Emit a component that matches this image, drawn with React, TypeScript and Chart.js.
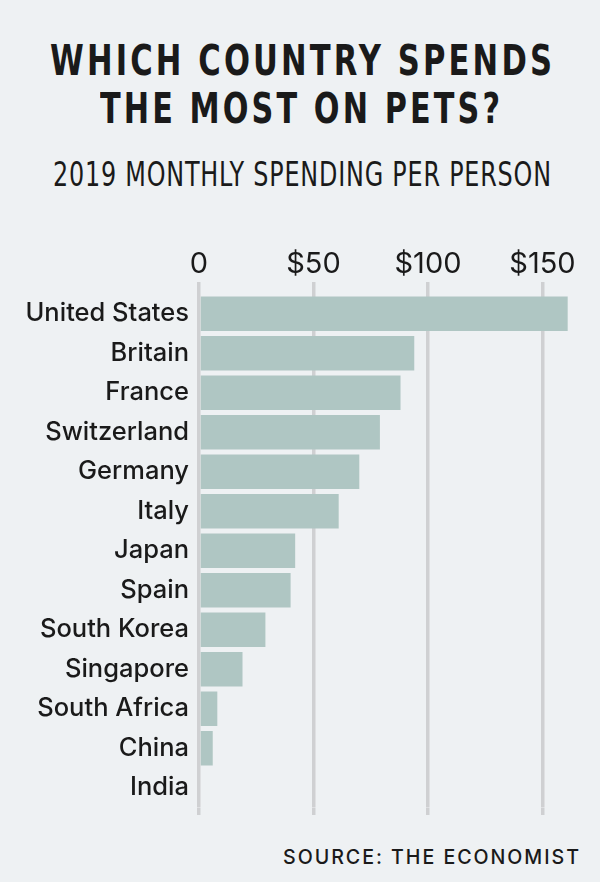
import React, { useEffect, useLayoutEffect, useRef } from 'react';
import { Chart, registerables } from 'chart.js';

Chart.register(...registerables);

const countries = [
  'United States', 'Britain', 'France', 'Switzerland', 'Germany', 'Italy',
  'Japan', 'Spain', 'South Korea', 'Singapore', 'South Africa', 'China', 'India',
];
const spending = [161, 94, 88, 79, 70, 61, 42, 40, 29, 19, 8, 6, 0];
const tickValues = [0, 50, 100, 150];
const titleLines = ['WHICH COUNTRY SPENDS', 'THE MOST ON PETS?'];
const subtitle = '2019 MONTHLY SPENDING PER PERSON';
const source = 'SOURCE: THE ECONOMIST';

const BG = '#eef1f3';
const BAR = '#afc6c3';
const GRID = '#cfd0d2';
const INK = '#1a1a1a';

type FitProps = {
  text: string;
  left: number;
  top: number;
  width: number;
  ls: number;
  font: React.CSSProperties;
};

function FitText({ text, left, top, width, ls, font }: FitProps) {
  const ref = useRef<HTMLSpanElement>(null);
  useLayoutEffect(() => {
    const el = ref.current;
    if (!el) return;
    el.style.transform = 'none';
    const w = el.getBoundingClientRect().width - ls;
    el.style.transform = `scaleX(${width / w})`;
  }, [text, width, ls]);
  return (
    <div style={{ position: 'absolute', left, top, whiteSpace: 'nowrap', lineHeight: 1 }}>
      <span
        ref={ref}
        style={{
          display: 'inline-block',
          transformOrigin: '0 0',
          letterSpacing: ls + 'px',
          color: INK,
          ...font,
        }}
      >
        {text}
      </span>
    </div>
  );
}

export default function App() {
  const canvasRef = useRef<HTMLCanvasElement>(null);

  useEffect(() => {
    const canvas = canvasRef.current;
    if (!canvas) return;
    const setTicks = (scale: any) => {
      scale.ticks = tickValues.map((v) => ({ value: v }));
    };
    const chart = new Chart(canvas, {
      type: 'bar',
      data: {
        labels: countries,
        datasets: [
          {
            data: spending,
            backgroundColor: BAR,
            borderWidth: 0,
            barPercentage: 0.87,
            categoryPercentage: 1,
            xAxisID: 'x',
          },
        ],
      },
      options: {
        indexAxis: 'y',
        responsive: false,
        maintainAspectRatio: false,
        animation: false,
        layout: { padding: { top: 6, bottom: 5, left: 0, right: 11.7 } },
        plugins: {
          legend: { display: false },
          tooltip: { enabled: false },
          title: { display: false },
        },
        scales: {
          x: {
            type: 'linear',
            position: 'top',
            min: 0,
            max: 170,
            afterBuildTicks: setTicks,
            afterFit: (scale: any) => {
              scale.height = 48;
              scale.paddingLeft = 0;
              scale.paddingRight = 0;
            },
            border: { display: false },
            grid: {
              color: GRID,
              lineWidth: 3.5,
              drawTicks: true,
              tickLength: 12,
            },
            ticks: {
              padding: 0,
              color: INK,
              font: { family: 'Inter', size: 29, weight: '400' },
              callback: (v: any) => (Number(v) === 0 ? '0' : '$' + v),
              maxRotation: 0,
            },
          },
          x2: {
            type: 'linear',
            axis: 'x',
            position: 'bottom',
            min: 0,
            max: 170,
            afterBuildTicks: setTicks,
            afterFit: (scale: any) => {
              scale.height = 7.5;
              scale.paddingLeft = 0;
              scale.paddingRight = 0;
            },
            border: { display: false },
            grid: {
              color: GRID,
              lineWidth: 3.5,
              drawOnChartArea: false,
              drawTicks: true,
              tickLength: 7.5,
            },
            ticks: { display: false },
          },
          y: {
            type: 'category',
            position: 'left',
            afterFit: (scale: any) => {
              scale.width = 199;
              scale.paddingTop = 0;
              scale.paddingBottom = 0;
            },
            border: { display: false },
            grid: { display: false, drawTicks: false },
            ticks: {
              padding: 10,
              color: INK,
              font: { family: 'Inter', size: 25.5, weight: '500' },
            },
          },
        },
      },
    } as any);
    return () => chart.destroy();
  }, []);

  const titleFont: React.CSSProperties = {
    fontFamily: '"DejaVu Sans Condensed", "DejaVu Sans", sans-serif',
    fontStretch: 'condensed',
    fontWeight: 700,
    fontSize: '43.5px',
  };
  const subFont: React.CSSProperties = {
    fontFamily: '"DejaVu Sans Condensed", "DejaVu Sans", sans-serif',
    fontStretch: 'condensed',
    fontWeight: 400,
    fontSize: '33.3px',
  };
  const sourceFont: React.CSSProperties = {
    fontFamily: 'Inter, sans-serif',
    fontWeight: 500,
    fontSize: '20px',
  };

  return (
    <div
      style={{
        position: 'absolute',
        left: 0,
        top: 0,
        width: 600,
        height: 882,
        background: BG,
        overflow: 'hidden',
      }}
    >
      <FitText text={titleLines[0]} left={50} top={38.9} width={502} ls={4} font={titleFont} />
      <FitText text={titleLines[1]} left={100} top={86.5} width={400} ls={4} font={titleFont} />
      <FitText text={subtitle} left={53} top={157.8} width={498} ls={1} font={subFont} />
      <FitText text={source} left={283.3} top={846.5} width={296} ls={2} font={sourceFont} />
      <canvas
        ref={canvasRef}
        width={600}
        height={580}
        style={{ position: 'absolute', left: 0, top: 240, width: 600, height: 580 }}
      />
    </div>
  );
}
